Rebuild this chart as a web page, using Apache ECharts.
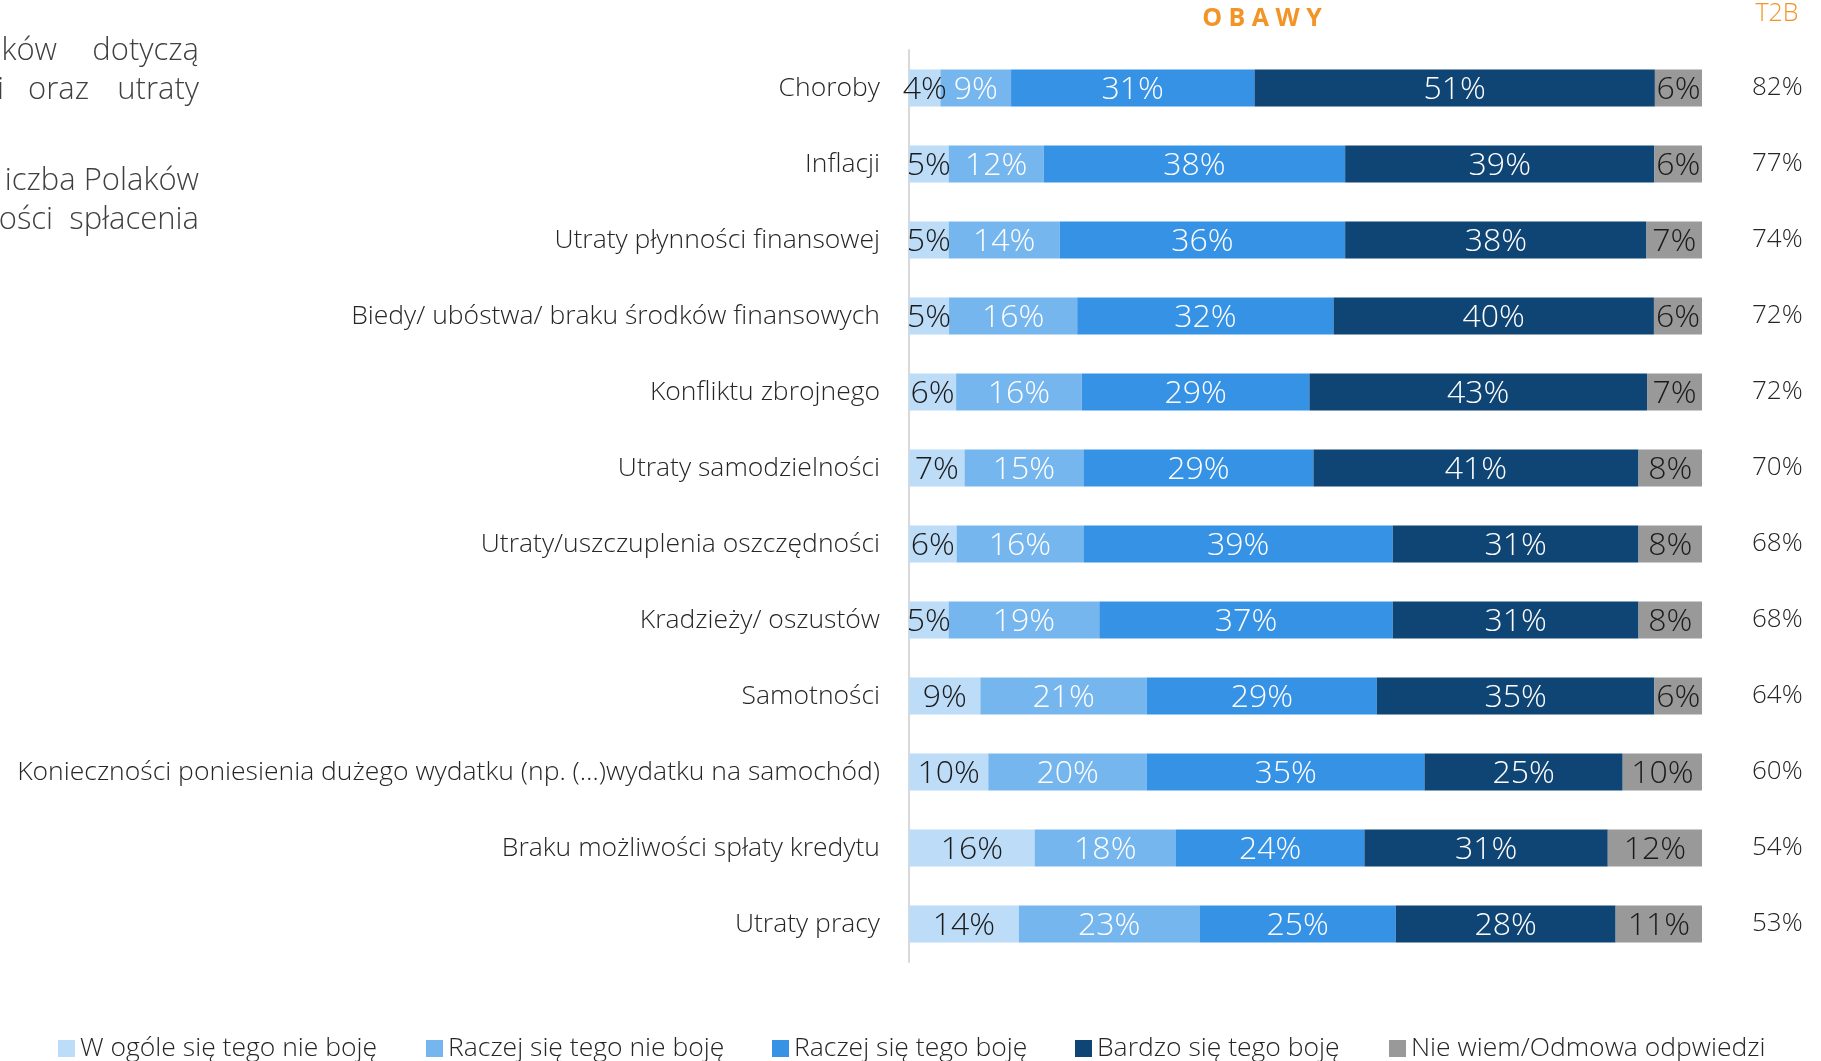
<!DOCTYPE html>
<html>
<head>
<meta charset="utf-8">
<script src="https://cdn.jsdelivr.net/npm/echarts@6/dist/echarts.min.js"></script>
<style>
html,body{margin:0;padding:0;background:#fff;}
#chart{width:1821px;height:1061px;}
</style>
</head>
<body>
<div id="chart"></div>
<script>
const categories = [
  'Choroby',
  'Inflacji',
  'Utraty płynności finansowej',
  'Biedy/ ubóstwa/ braku środków finansowych',
  'Konfliktu zbrojnego',
  'Utraty samodzielności',
  'Utraty/uszczuplenia oszczędności',
  'Kradzieży/ oszustów',
  'Samotności',
  'Konieczności poniesienia dużego wydatku (np. (…)wydatku na samochód)',
  'Braku możliwości spłaty kredytu',
  'Utraty pracy'
];
const seriesNames = [
  'W ogóle się tego nie boję',
  'Raczej się tego nie boję',
  'Raczej się tego boję',
  'Bardzo się tego boję',
  'Nie wiem/Odmowa odpwiedzi'
];
const notAtAll  = [4, 5, 5, 5, 6, 7, 6, 5, 9, 10, 16, 14];
const ratherNot = [9, 12, 14, 16, 16, 15, 16, 19, 21, 20, 18, 23];
const ratherYes = [31, 38, 36, 32, 29, 29, 39, 37, 29, 35, 24, 25];
const very      = [51, 39, 38, 40, 43, 41, 31, 31, 35, 25, 31, 28];
const dontKnow  = [6, 6, 7, 6, 7, 8, 8, 8, 6, 10, 12, 11];
const t2b       = [82, 77, 74, 72, 72, 70, 68, 68, 64, 60, 54, 53];

const colors = ['#BDDCF7', '#76B6EE', '#3592E5', '#0F4574', '#999999'];
const labelColors = ['#1a1a1a', '#ffffff', '#ffffff', '#ffffff', '#1a1a1a'];
const FONT = "'Open Sans', 'Noto Sans', sans-serif";

const raw = [notAtAll, ratherNot, ratherYes, very, dontKnow];
const totals = categories.map((c, i) => raw.reduce((s, arr) => s + arr[i], 0));

const series = raw.map((arr, k) => ({
  name: seriesNames[k],
  type: 'bar',
  stack: 'total',
  barWidth: 37,
  itemStyle: { color: colors[k] },
  label: {
    show: true,
    position: 'inside',
    offset: [0, 2],
    formatter: p => arr[p.dataIndex] + '%',
    color: labelColors[k],
    fontFamily: FONT,
    fontWeight: 300,
    fontSize: 32
  },
  data: arr.map((v, i) => v / totals[i] * 100)
}));

const legends = seriesNames.map((n, k) => ({
  data: [n],
  left: [58, 426, 772, 1075, 1389][k],
  top: 1035,
  padding: 0,
  icon: 'rect',
  itemWidth: 17,
  itemHeight: 17,
  selectedMode: false,
  textStyle: { fontFamily: FONT, fontWeight: 300, fontSize: 26.5, color: '#262626' }
}));

const TL = "300 31px 'Open Sans', sans-serif";
const chart = echarts.init(document.getElementById('chart'), null, { renderer: 'canvas' });
chart.setOption({
  animation: false,
  backgroundColor: '#ffffff',
  color: colors,
  grid: { left: 909, right: 119, top: 50, bottom: 99, containLabel: false },
  xAxis: {
    type: 'value', min: 0, max: 100,
    show: false
  },
  yAxis: [{
    type: 'category',
    data: categories,
    inverse: true,
    axisLine: { show: true, lineStyle: { color: '#D9D9D9', width: 2 } },
    axisTick: { show: false },
    axisLabel: { margin: 29, fontFamily: FONT, fontWeight: 300, fontSize: 26.5, color: '#262626' }
  }, {
    type: 'category',
    data: t2b.map(v => v + '%'),
    inverse: true,
    position: 'right',
    axisLine: { show: false },
    axisTick: { show: false },
    axisLabel: { margin: 50, fontFamily: FONT, fontWeight: 300, fontSize: 26, color: '#262626' }
  }],
  legend: legends,
  series: series,
  graphic: [
    { type: 'text', x: 1262, y: 19, style: { text: 'O B A W Y', fill: '#F39426', font: "bold 25px 'Open Sans', sans-serif", textAlign: 'center', textVerticalAlign: 'middle' } },
    { type: 'text', x: 1777, y: 14, style: { text: 'T2B', fill: '#F39426', font: "300 25px 'Open Sans', sans-serif", textAlign: 'center', textVerticalAlign: 'middle' } },
    { type: 'text', x: 57, y: 51, style: { text: 'ków', fill: '#404040', font: TL, textAlign: 'right', textVerticalAlign: 'middle' } },
    { type: 'text', x: 199, y: 51, style: { text: 'dotyczą', fill: '#404040', font: TL, textAlign: 'right', textVerticalAlign: 'middle' } },
    { type: 'text', x: 4, y: 90, style: { text: 'i', fill: '#404040', font: TL, textAlign: 'right', textVerticalAlign: 'middle' } },
    { type: 'text', x: 28, y: 90, style: { text: 'oraz', fill: '#404040', font: TL, textAlign: 'left', textVerticalAlign: 'middle' } },
    { type: 'text', x: 199, y: 90, style: { text: 'utraty', fill: '#404040', font: TL, textAlign: 'right', textVerticalAlign: 'middle' } },
    { type: 'text', x: 199, y: 181, style: { text: 'iczba Polaków', fill: '#404040', font: TL, textAlign: 'right', textVerticalAlign: 'middle' } },
    { type: 'text', x: 199, y: 220, style: { text: 'ości  spłacenia', fill: '#404040', font: TL, textAlign: 'right', textVerticalAlign: 'middle' } }
  ]
});
</script>
</body>
</html>
